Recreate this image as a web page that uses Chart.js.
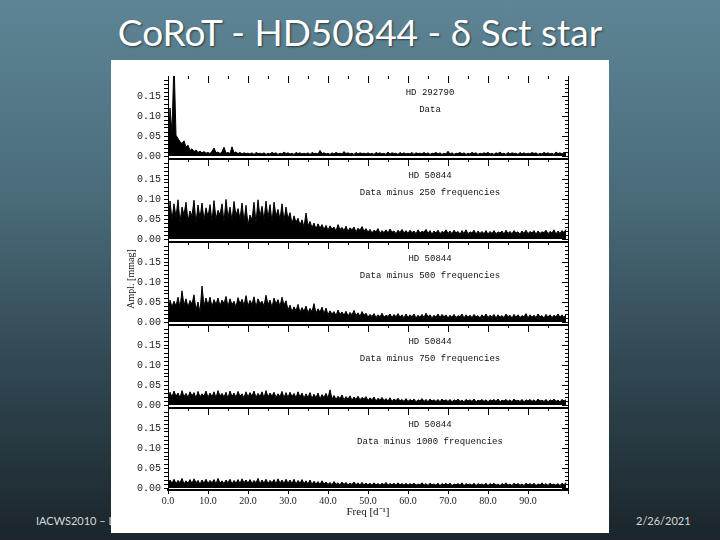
<!DOCTYPE html>
<html>
<head>
<meta charset="utf-8">
<title>CoRoT - HD50844 - δ Sct star</title>
<script src="https://cdn.jsdelivr.net/npm/chart.js@4.4.1/dist/chart.umd.min.js"></script>
<style>
  html, body { margin: 0; padding: 0; }
  body {
    width: 720px; height: 540px; overflow: hidden; position: relative;
    background: linear-gradient(180deg, #5e8595 0%, #4b6d7b 35%, #2f4550 70%, #1b252a 100%);
    font-family: Lato, "Open Sans", sans-serif;
  }
  h1 {
    position: absolute; left: 0; top: 13px; width: 720px; margin: 0;
    text-align: center; font-weight: 400; font-size: 37px; line-height: 37px;
    color: #fff; text-shadow: 1px 1px 2px rgba(0,0,0,.55);
  }
  .foot { position: absolute; top: 514px; font-size: 11px; color: #d3d9dc; }
  #figure { position: absolute; left: 111px; top: 60px; width: 498px; height: 473px; background: #fff; }
  #figure canvas { position: absolute; left: 0; }
</style>
</head>
<body>
<h1>CoRoT - HD50844 - δ Sct star</h1>
<div class="foot" style="left:36px">IACWS2010 – L</div>
<div class="foot" style="left:636px">2/26/2021</div>
<div id="figure"></div>

<script>
  // ================= DATA =================
  // amplitudes in 0.001 mmag, one value every 0.5 d^-1 from 0.0 to 99.5
  const freqStep = 0.5;

  const ampHD292790 = [
    3,120,58,240,52,44,36,31,38,22,27,14,18,11,15,9,12,8,11,7,
    9,6,12,20,8,10,6,11,22,7,9,6,23,8,10,6,9,5,8,6,
    7,5,8,4,9,6,7,5,8,4,7,5,9,6,8,4,7,5,10,6,
    8,5,7,4,9,6,8,5,7,5,8,4,9,6,7,5,14,6,8,5,
    7,4,8,5,9,6,7,5,11,6,8,5,7,4,9,5,8,6,7,5,
    8,5,7,4,9,6,8,5,7,4,10,5,8,6,7,4,9,5,8,5,
    7,5,9,4,8,6,7,5,9,5,8,4,7,6,9,5,8,4,7,5,
    12,5,8,4,7,6,9,5,8,4,7,5,9,6,8,4,7,5,8,6,
    9,5,7,4,8,6,10,5,7,4,9,5,8,6,7,4,9,5,8,5,
    7,5,9,6,8,4,7,5,9,6,8,5,7,4,10,6,8,5,9,7
  ];

  const amp250 = [
    12,95,48,88,55,98,42,80,60,92,45,70,58,97,40,85,52,90,47,78,
    55,86,44,96,50,72,60,88,42,99,53,80,46,94,58,76,50,90,44,84,
    35,60,48,92,40,98,55,82,47,95,52,86,43,92,57,74,49,88,45,80,
    50,66,38,58,42,52,35,48,30,65,33,44,28,40,25,38,27,36,24,34,
    22,33,25,30,20,36,24,29,21,32,19,28,23,30,18,27,22,31,20,26,
    17,24,15,22,18,26,14,21,16,23,15,25,17,20,13,22,16,24,15,21,
    14,22,16,20,13,23,15,19,17,24,14,21,12,20,15,22,13,19,16,23,
    14,20,13,22,15,19,12,21,14,23,13,18,15,22,12,20,14,19,13,21,
    12,19,14,21,13,18,15,20,12,22,14,19,13,21,15,18,12,20,14,22,
    13,19,15,21,12,20,14,18,16,22,13,19,15,23,12,20,14,21,16,24
  ];

  const amp500 = [
    10,55,38,52,40,62,36,78,42,58,37,54,45,68,30,50,24,90,40,60,
    42,62,38,56,44,60,40,55,46,64,39,58,43,52,37,61,45,57,41,66,
    40,54,44,63,38,58,46,52,40,67,43,55,37,60,45,56,39,62,42,53,
    30,42,26,38,28,44,24,36,27,40,23,34,26,46,22,33,25,37,21,35,
    18,28,20,26,16,30,19,25,17,27,15,24,18,29,16,23,14,26,17,22,
    12,19,14,21,11,18,13,22,12,17,14,20,11,19,13,21,12,18,10,20,
    11,18,13,20,10,17,12,19,11,22,13,18,10,17,12,20,11,19,13,18,
    10,17,12,19,11,16,13,20,10,18,12,17,11,19,13,16,10,18,12,20,
    11,17,13,19,10,18,12,16,11,20,13,17,10,19,12,18,11,16,13,21,
    10,18,12,17,11,20,13,16,10,19,12,18,11,17,13,20,12,18,11,19
  ];

  const amp750 = [
    8,32,20,35,22,30,18,36,21,29,19,33,23,31,17,34,20,28,22,35,
    19,30,21,33,18,36,22,29,20,32,17,35,21,30,19,34,22,28,18,33,
    20,31,22,35,19,29,21,33,18,36,20,30,22,32,19,28,21,34,18,31,
    19,32,21,29,18,33,20,30,17,28,19,31,16,27,18,30,15,26,19,29,
    17,38,15,24,14,22,16,25,13,21,15,23,12,20,14,22,13,19,15,21,
    11,18,13,20,10,17,12,19,11,16,10,18,9,15,11,17,10,14,9,16,
    9,14,10,15,8,13,10,16,9,14,8,15,10,13,9,14,8,15,10,13,
    9,14,8,13,10,15,9,12,8,14,10,13,9,15,8,12,10,14,9,13,
    8,13,10,14,9,15,8,12,10,14,9,13,8,15,10,12,9,14,8,13,
    10,14,9,13,8,15,10,12,9,14,8,13,10,15,9,12,8,14,10,13
  ];

  const amp1000 = [
    6,20,12,22,11,19,13,24,10,18,12,21,11,23,13,19,10,20,12,22,
    11,19,13,21,10,24,12,18,11,20,13,22,10,19,12,21,11,23,13,20,
    12,21,11,19,13,24,10,20,12,22,11,19,13,21,10,23,12,20,11,22,
    12,20,11,22,10,19,12,21,11,18,10,20,9,17,10,16,9,18,10,15,
    9,14,8,16,9,13,8,15,9,14,8,12,9,15,8,13,7,14,8,12,
    8,12,7,13,8,11,7,12,8,14,7,11,8,12,7,13,8,11,7,12,
    7,11,8,12,7,10,8,13,7,11,6,12,8,10,7,12,6,11,8,12,
    7,12,6,10,8,11,7,13,6,11,8,10,7,12,6,11,8,10,7,12,
    6,11,8,12,7,10,6,11,8,13,7,10,6,12,8,11,7,10,6,12,
    8,11,7,12,6,10,8,13,7,11,6,12,8,10,7,11,6,12,8,14
  ];

  const panelStars = ["HD 292790", "HD 50844", "HD 50844", "HD 50844", "HD 50844"];
  const panelNotes = ["Data", "Data minus 250 frequencies", "Data minus 500 frequencies",
                      "Data minus 750 frequencies", "Data minus 1000 frequencies"];

  const yTickValues  = [0, 0.01, 0.02, 0.03, 0.04, 0.05, 0.06, 0.07, 0.08, 0.09,
                        0.10, 0.11, 0.12, 0.13, 0.14, 0.15, 0.16, 0.17, 0.18, 0.19];
  const yLabelValues = [0, 0.05, 0.10, 0.15];
  const xLabelValues = [0, 10, 20, 30, 40, 50, 60, 70, 80, 90];

  // ================= PANEL DECORATION (mirror ticks + captions) =================
  const frameTicks = {
    id: "frameTicks",
    afterDraw(chart, args, opts) {
      const { ctx, chartArea: a, scales: { x, y } } = chart;
      ctx.save();
      ctx.strokeStyle = "#000";
      ctx.lineWidth = 1;
      ctx.beginPath();
      // right axis + inward ticks
      ctx.moveTo(a.right + 0.5, a.top);
      ctx.lineTo(a.right + 0.5, a.bottom);
      y.ticks.forEach(t => {
        const py = Math.round(y.getPixelForValue(t.value)) + 0.5;
        const len = yLabelValues.includes(t.value) ? 6 : 3;
        ctx.moveTo(a.right, py); ctx.lineTo(a.right - len, py);
      });
      // top ticks hanging into the panel
      for (let v = 5; v < 100; v += 5) {
        const px = Math.round(x.getPixelForValue(v)) + 0.5;
        const len = v % 10 === 0 ? 7 : 3;
        ctx.moveTo(px, a.top); ctx.lineTo(px, a.top + len);
      }
      ctx.stroke();

      if (opts.bottomLine) {
        ctx.lineWidth = 2;
        ctx.beginPath();
        ctx.moveTo(a.left, a.bottom + 1);
        ctx.lineTo(a.right + 1, a.bottom + 1);
        ctx.stroke();
      }

      // captions
      ctx.fillStyle = "#111";
      ctx.font = '9px "Liberation Mono"';
      ctx.textAlign = "center";
      ctx.textBaseline = "middle";
      const tx = x.getPixelForValue(65.5);
      ctx.fillText(opts.star, tx, a.top + 17);
      ctx.fillText(opts.note, tx, a.top + 34);

      if (opts.yTitle) {
        ctx.font = '10px "Liberation Serif"';
        ctx.translate(y.left + 20, a.top + 37);
        ctx.rotate(-Math.PI / 2);
        ctx.fillText(opts.yTitle, 0, 0);
      }
      ctx.restore();
    }
  };

  // ================= CHARTS (one canvas per panel) =================
  const fig = document.getElementById("figure");
  const panels = [ampHD292790, amp250, amp500, amp750, amp1000];

  panels.forEach((amps, i) => {
    const last = i === panels.length - 1;
    const canvas = document.createElement("canvas");
    canvas.width = 498;
    canvas.height = last ? 132 : 102;
    canvas.style.top = (6 + 83 * i) + "px";
    fig.appendChild(canvas);

    const points = amps.map((v, k) => ({ x: k * freqStep, y: v / 1000 }));

    new Chart(canvas.getContext("2d"), {
      type: "line",
      data: {
        datasets: [{
          data: points,
          borderColor: "#000",
          backgroundColor: "#000",
          borderWidth: 1,
          pointRadius: 0,
          tension: 0,
          fill: "origin"
        }]
      },
      options: {
        responsive: false,
        animation: false,
        devicePixelRatio: 1,
        layout: { padding: { top: 10, bottom: last ? 4 : 10, left: 0, right: 41 } },
        plugins: {
          legend: { display: false },
          tooltip: { enabled: false },
          frameTicks: {
            star: panelStars[i],
            note: panelNotes[i],
            bottomLine: !last,
            yTitle: i === 2 ? "Ampl. [mmag]" : null
          }
        },
        scales: {
          x: {
            type: "linear",
            display: last,
            min: 0, max: 100,
            afterFit: s => { s.height = last ? 36 : 0; },
            border: { display: true, color: "#000", width: 2 },
            grid: {
              drawOnChartArea: false, drawTicks: true, tickLength: 4,
              tickColor: c => (c.tick && c.tick.value % 10 === 0 ? "#000" : "rgba(0,0,0,0)")
            },
            ticks: {
              stepSize: 5, autoSkip: false, maxRotation: 0, padding: 1,
              color: "#222", font: { family: "Liberation Serif", size: 10 },
              callback: v => (xLabelValues.includes(v) ? v.toFixed(1) : "")
            },
            title: {
              display: true, text: "Freq [d⁻¹]", color: "#111",
              font: { family: "Liberation Serif", size: 11 },
              padding: { top: 0, bottom: 7 }
            }
          },
          y: {
            min: -0.005, max: 0.2,
            afterFit: s => { s.width = 57; },
            afterBuildTicks: s => { s.ticks = yTickValues.map(v => ({ value: v })); },
            border: { display: true, color: "#000", width: 1 },
            grid: { drawOnChartArea: false, drawTicks: true, tickLength: 4, color: "#000" },
            ticks: {
              autoSkip: false, padding: 3,
              color: "#222", font: { family: "Liberation Mono", size: 10 },
              callback: v => (yLabelValues.includes(v) ? v.toFixed(2) : "")
            }
          }
        }
      },
      plugins: [frameTicks]
    });
  });
</script>
</body>
</html>
